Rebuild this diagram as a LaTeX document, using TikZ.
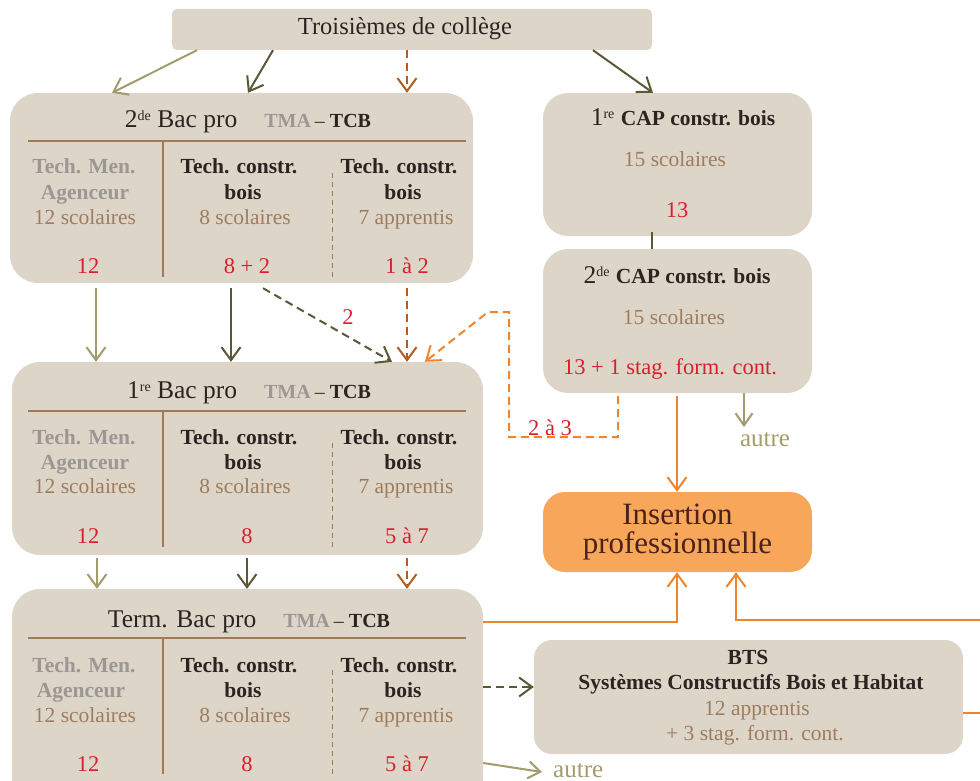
\documentclass[tikz,border=0pt]{standalone}
\usepackage{fontspec}
\setmainfont{Liberation Serif}
\usetikzlibrary{arrows.meta}
\definecolor{boxbg}{HTML}{DDD5C8}
\definecolor{darktext}{HTML}{2B2522}
\definecolor{greytext}{HTML}{9B9893}
\definecolor{browntext}{HTML}{9E7D5E}
\definecolor{redtext}{HTML}{D91F2E}
\definecolor{rulecol}{HTML}{A27A55}
\definecolor{lolive}{HTML}{A29C6C}
\definecolor{dolive}{HTML}{5B5836}
\definecolor{rust}{HTML}{B55D1E}
\definecolor{orng}{HTML}{F0842A}
\definecolor{insfill}{HTML}{F7A65A}
\definecolor{instext}{HTML}{4B2219}
\newcommand{\tmatcb}{{\fontsize{20}{22}\selectfont\textbf{\textcolor{greytext}{TMA}}\kern4pt--\kern5pt\textbf{TCB}}}
\newcommand{\mysup}[1]{\raisebox{7pt}{\fontsize{14}{14}\selectfont #1}}
\begin{document}
\begin{tikzpicture}[x=1pt,y=-1pt,
  box/.style={fill=boxbg, draw=none, rounded corners=28pt, inner sep=0pt},
  lbl/.style={anchor=base, inner sep=0pt, font=\fontsize{21.5}{24}\selectfont},
  hdg/.style={lbl, font=\fontsize{21.5}{24}\selectfont\bfseries, text=greytext},
  hdd/.style={lbl, font=\fontsize{21.5}{24}\selectfont\bfseries, text=darktext},
  num/.style={lbl, text=browntext},
  red/.style={lbl, font=\fontsize{22.5}{24}\selectfont, text=redtext},
  ttl/.style={lbl, font=\fontsize{25.5}{28}\selectfont, text=darktext},
  rulel/.style={draw=rulecol, line width=1.3pt},
  dashl/.style={draw=rulecol, line width=1pt, dash pattern=on 5pt off 4pt},
  arr/.style={line width=2pt, -{Straight Barb[length=13pt,width=19pt]}},
  sarr/.style={line width=2pt, -{Straight Barb[length=12pt,width=17pt]}},
  dsh/.style={dash pattern=on 8pt off 5pt},
  autretxt/.style={lbl, font=\fontsize{25}{28}\selectfont, text=lolive}
]
\useasboundingbox (0,0) rectangle (980,781);
\clip (0,0) rectangle (980,781);

% ---------- boxes ----------
\node[box, rounded corners=5pt, minimum width=480pt, minimum height=41pt] (top) at (412,29.5) {};
\node[box, minimum width=463pt, minimum height=190pt] (b2) at (241.5,188) {};
\node[box, minimum width=471pt, minimum height=193pt] (b1) at (247.5,458.5) {};
\node[box, minimum width=471pt, minimum height=216pt] (tb) at (247.5,697) {};
\node[box, rounded corners=25pt, minimum width=269pt, minimum height=143pt] (cap1) at (677.5,164.5) {};
\node[box, rounded corners=25pt, minimum width=269pt, minimum height=144pt] (cap2) at (677.5,321) {};
\node[fill=insfill, rounded corners=22pt, minimum width=269pt, minimum height=80pt, inner sep=0pt,
      align=center, text=instext, font=\fontsize{31}{29}\selectfont] (ins) at (677.5,532) {Insertion\\professionnelle};
\node[box, rounded corners=18pt, minimum width=429pt, minimum height=114pt] (bts) at (748.5,697) {};

% ---------- top ----------
\node[lbl, font=\fontsize{24.5}{28}\selectfont, text=darktext] (topt) at (405,35) {Troisièmes de collège};

% ---------- 2de Bac pro ----------
\node[ttl] (b2t) at (248,128) {2\mysup{de} Bac pro\hspace{27pt}\tmatcb};
\draw[rulel] (28,141) -- (466,141);
\draw[rulel] (163,141) -- (163,277);
\draw[dashl] (332,173) -- (332,277);
\node[hdg] (b2a1) at (84,174) {Tech. Men.};
\node[hdg] (b2a2) at (85,200) {Agenceur};
\node[num] (b2a3) at (85,224) {12 scolaires};
\node[red] (b2a4) at (88,273) {12};
\node[hdd] (b2b1) at (239,174) {Tech. constr.};
\node[hdd] (b2b2) at (243,200) {bois};
\node[num] (b2b3) at (245,224) {8 scolaires};
\node[red] (b2b4) at (247,273) {8 + 2};
\node[hdd] (b2c1) at (399,174) {Tech. constr.};
\node[hdd] (b2c2) at (403,200) {bois};
\node[num] (b2c3) at (406,224) {7 apprentis};
\node[red] (b2c4) at (407,273) {1 à 2};

% ---------- 1re Bac pro ----------
\node[ttl] (b1t) at (249,398) {1\mysup{re} Bac pro\hspace{27pt}\tmatcb};
\draw[rulel] (28,411) -- (466,411);
\draw[rulel] (163,411) -- (163,547);
\draw[dashl] (332,443) -- (332,547);
\node[hdg] (b1a1) at (84,444) {Tech. Men.};
\node[hdg] (b1a2) at (85,469) {Agenceur};
\node[num] (b1a3) at (85,493) {12 scolaires};
\node[red] (b1a4) at (88,543) {12};
\node[hdd] (b1b1) at (239,444) {Tech. constr.};
\node[hdd] (b1b2) at (243,469) {bois};
\node[num] (b1b3) at (245,493) {8 scolaires};
\node[red] (b1b4) at (247,543) {8};
\node[hdd] (b1c1) at (399,444) {Tech. constr.};
\node[hdd] (b1c2) at (403,469) {bois};
\node[num] (b1c3) at (406,493) {7 apprentis};
\node[red] (b1c4) at (407,543) {5 à 7};

% ---------- Term. Bac pro ----------
\node[ttl] (tbt) at (249,627) {Term. Bac pro\hspace{27pt}\tmatcb};
\draw[rulel] (28,638) -- (466,638);
\draw[rulel] (163,638) -- (163,774);
\draw[dashl] (332,670) -- (332,774);
\node[hdg] (tba1) at (84,672) {Tech. Men.};
\node[hdg] (tba2) at (81,697) {Agenceur};
\node[num] (tba3) at (85,722) {12 scolaires};
\node[red] (tba4) at (88,771) {12};
\node[hdd] (tbb1) at (239,672) {Tech. constr.};
\node[hdd] (tbb2) at (243,697) {bois};
\node[num] (tbb3) at (245,722) {8 scolaires};
\node[red] (tbb4) at (247,771) {8};
\node[hdd] (tbc1) at (399,672) {Tech. constr.};
\node[hdd] (tbc2) at (403,697) {bois};
\node[num] (tbc3) at (406,722) {7 apprentis};
\node[red] (tbc4) at (407,771) {5 à 7};

% ---------- CAP ----------
\node[ttl] (cap1t) at (683,126) {1\mysup{re} {\fontsize{21.5}{24}\selectfont\bfseries CAP constr. bois}};
\node[num] (cap1n) at (675,167) {15 scolaires};
\node[red] (cap1r) at (677,217) {13};
\node[ttl] (cap2t) at (677,283) {2\mysup{de} {\fontsize{21.5}{24}\selectfont\bfseries CAP constr. bois}};
\node[num] (cap2n) at (674,324) {15 scolaires};
\node[red] (cap2r) at (670,374) {13 + 1 stag. form. cont.};

% ---------- BTS ----------
\node[hdd] (btst1) at (748,664) {BTS};
\node[hdd] (btst2) at (751,689) {Systèmes Constructifs Bois et Habitat};
\node[num] (btst3) at (757,715) {12 apprentis};
\node[num] (btst4) at (755,740) {+ 3 stag. form. cont.};

% ---------- labels ----------
\node[red] (l2) at (348,324) {2};
\node[red] (l23) at (550,435) {2 à 3};
\node[autretxt] (autre1) at (765,446) {autre};
\node[autretxt, anchor=base west] (autre2) at (553,777) {autre};
\coordinate (aut1) at (744,427);
\coordinate (aut2) at (542,772);

% ---------- connectors ----------
\draw[arr, lolive] (top.south -| 197,0) -- (b2.north -| 112,0);
\draw[arr, dolive] (top.south -| 273,0) -- (b2.north -| 248,0);
\draw[arr, rust, dsh] (top.south -| 407,0) -- (b2.north -| 407,0);
\draw[arr, dolive] (top.south -| 593,0) -- (cap1.north -| 653,0);

\draw[arr, lolive] (b2.south -| 96,0) ++(0,5) -- (b1.north -| 96,0);
\draw[arr, dolive] (b2.south -| 231,0) ++(0,5) -- (b1.north -| 231,0);
\draw[arr, dolive, dsh] (b2.south -| 263,0) ++(0,5) -- (b1.north -| 392,0);
\draw[arr, rust, dsh] (b2.south -| 407,0) ++(0,5) -- (b1.north -| 407,0);

\draw[arr, orng, dsh] (cap2.south -| 618,0) ++(0,3) coordinate (o1) -- (618,437) coordinate (o2) -- (509,437) coordinate (o3)
   -- (509,312) coordinate (o4) -- (488,312) coordinate (o5) -- (b1.north -| 425,0);

\draw[dolive, line width=2pt] (cap1.south -| 652,0) ++(0,-4) -- (cap2.north -| 652,0);
\draw[arr, orng] (cap2.south -| 677,0) ++(0,3) -- (ins.north -| 677,0);
\draw[sarr, lolive] (cap2.south -| 744,0) -- (aut1);

\draw[arr, lolive] (b1.south -| 97,0) ++(0,3) -- (tb.north -| 97,0);
\draw[arr, dolive] (b1.south -| 247,0) ++(0,3) -- (tb.north -| 247,0);
\draw[arr, rust, dsh] (b1.south -| 407,0) ++(0,3) -- (tb.north -| 407,0);

\draw[arr, orng] (tb.east |- 0,622) -| (ins.south -| 677,0);
\draw[arr, orng] (bts.east |- 0,713) -- (990,713) coordinate (p1) -- (990,620) coordinate (p2) -| (ins.south -| 736,0);
\draw[arr, dolive, dsh] (tb.east |- 0,687) -- (bts.west |- 0,687);
\draw[sarr, lolive] (tb.east |- 0,763) -- (aut2);
\end{tikzpicture}
\end{document}
